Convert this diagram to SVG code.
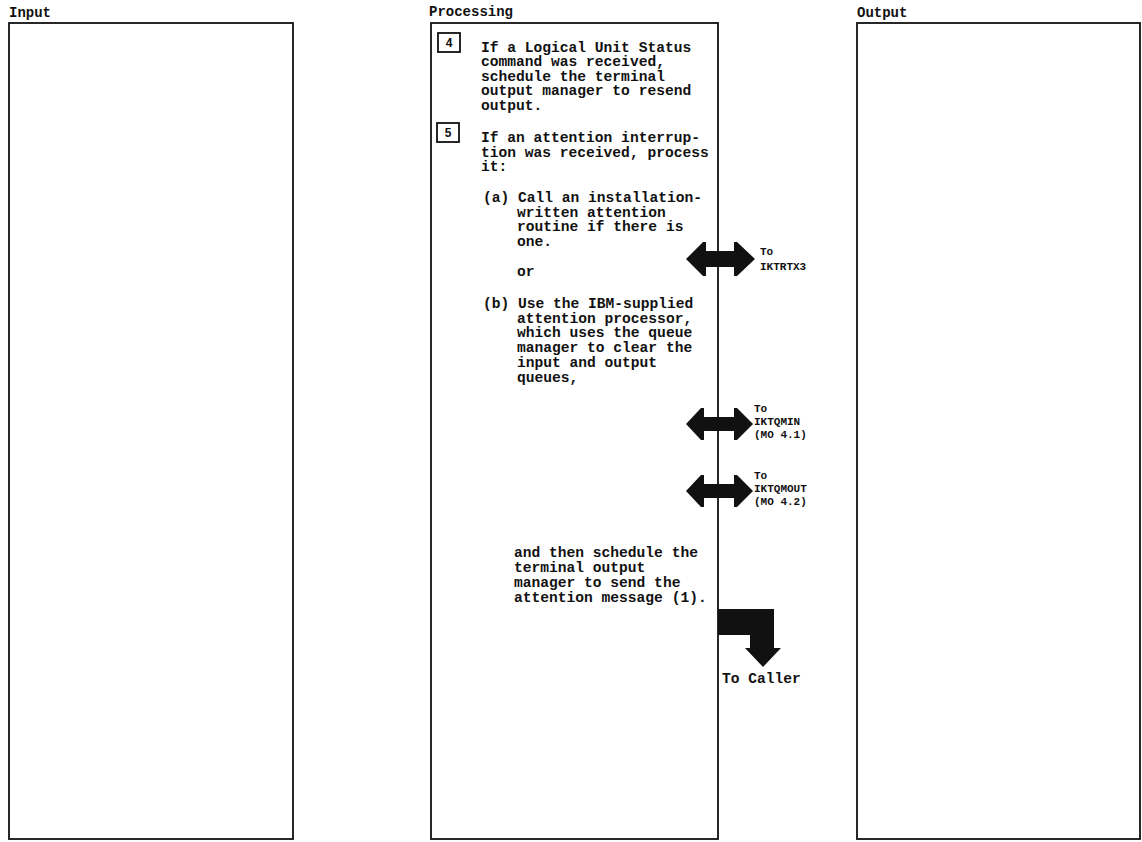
<svg xmlns="http://www.w3.org/2000/svg" width="1142" height="842" viewBox="0 0 1142 842">
<style>
text{font-family:"Liberation Mono","DejaVu Sans Mono",monospace;font-weight:bold;fill:#111;}
.h{font-size:14px;}
.t{font-size:14.6px;}
.s{font-size:11px;}
.n{font-size:12px;}
.box{fill:none;stroke:#111;stroke-width:1.8;}
.num{fill:#fff;stroke:#111;stroke-width:1.8;}
.arr{fill:#111;stroke:none;}
</style>
<rect width="1142" height="842" fill="#fff"/>
<g id="input">
<text class="h" x="9" y="17">Input</text>
<rect class="box" x="9" y="23" width="284" height="816"/>
</g>
<g id="output">
<text class="h" x="857" y="17">Output</text>
<rect class="box" x="857" y="23" width="283" height="816"/>
</g>
<g id="processing">
<text class="h" x="429" y="16">Processing</text>
<rect class="box" x="431" y="23" width="287" height="816"/>
</g>
<g id="step4">
<rect class="num" x="438" y="33" width="22" height="19"/>
<text class="n" x="449" y="47" text-anchor="middle">4</text>
<text class="t" x="481" y="51.5">If a Logical Unit Status</text>
<text class="t" x="481" y="66">command was received,</text>
<text class="t" x="481" y="80.6">schedule the terminal</text>
<text class="t" x="481" y="95.2">output manager to resend</text>
<text class="t" x="481" y="109.8">output.</text>
</g>
<g id="step5">
<rect class="num" x="437" y="123" width="22" height="19"/>
<text class="n" x="448" y="137" text-anchor="middle">5</text>
<text class="t" x="481" y="142">If an attention interrup-</text>
<text class="t" x="481" y="156.7">tion was received, process</text>
<text class="t" x="481" y="171.4">it:</text>
<text class="t" x="483" y="202">(a) Call an installation-</text>
<text class="t" x="517" y="216.7">written attention</text>
<text class="t" x="517" y="231.4">routine if there is</text>
<text class="t" x="517" y="246.1">one.</text>
<text class="t" x="517" y="276">or</text>
<text class="t" x="483" y="308">(b) Use the IBM-supplied</text>
<text class="t" x="517" y="322.7">attention processor,</text>
<text class="t" x="517" y="337.4">which uses the queue</text>
<text class="t" x="517" y="352.1">manager to clear the</text>
<text class="t" x="517" y="366.8">input and output</text>
<text class="t" x="517" y="381.5">queues,</text>
<text class="t" x="514" y="557">and then schedule the</text>
<text class="t" x="514" y="572">terminal output</text>
<text class="t" x="514" y="587">manager to send the</text>
<text class="t" x="514" y="601.5">attention message (1).</text>
</g>
<g id="connectors">
<polygon class="arr" points="686,259 703,242 706,242 706,251 734,251 734,242 737,242 755,259 737,276 734,276 734,267 706,267 706,276 703,276"/>
<polygon class="arr" points="686,424 701,408 704,408 704,417 734,417 734,408 737,408 753,424 737,440 734,440 734,431 704,431 704,440 701,440"/>
<polygon class="arr" points="686,491 701,475 704,475 704,484 734,484 734,475 737,475 753,491 737,507 734,507 734,498 704,498 704,507 701,507"/>
<polygon class="arr" points="718,609 774,609 774,648 781,648 763,667 745,648 750,648 750,635 718,635"/>
</g>
<g id="target-iktrtx3">
<text class="s" x="760" y="255">To</text>
<text class="s" x="760" y="270">IKTRTX3</text>
</g>
<g id="target-iktqmin">
<text class="s" x="754" y="412">To</text>
<text class="s" x="754" y="425">IKTQMIN</text>
<text class="s" x="754" y="438">(MO 4.1)</text>
</g>
<g id="target-iktqmout">
<text class="s" x="754" y="479">To</text>
<text class="s" x="754" y="492">IKTQMOUT</text>
<text class="s" x="754" y="505">(MO 4.2)</text>
</g>
<g id="caller">
<text class="t" x="722" y="683">To Caller</text>
</g>
</svg>
